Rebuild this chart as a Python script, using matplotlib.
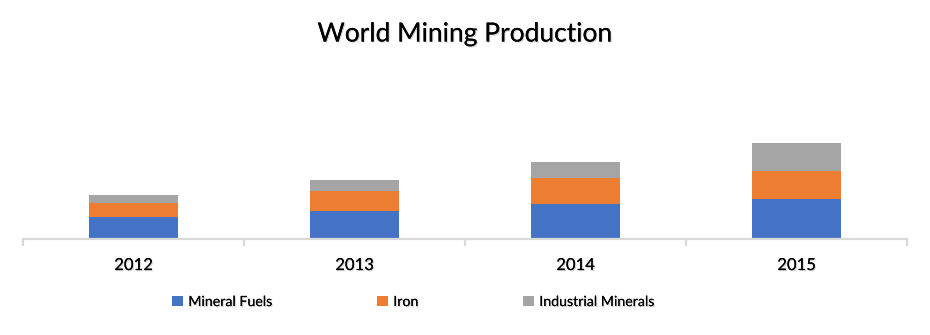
import matplotlib
matplotlib.use("Agg")
import matplotlib.pyplot as plt
import matplotlib.patheffects as pe
from matplotlib.patches import Patch
import numpy as np

years = ["2012", "2013", "2014", "2015"]
mineral_fuels = [22, 28, 34, 39]
iron = [13, 19, 26, 28]
industrial_minerals = [8, 11, 16, 27]
series_names = ["Mineral Fuels", "Iron", "Industrial Minerals"]
colors = ["#4472C4", "#ED7D31", "#A5A5A5"]

plt.rcParams['font.family'] = ['Lato', 'DejaVu Sans']
shadow = [pe.withSimplePatchShadow(offset=(0.8, -0.8), shadow_rgbFace='#888888', alpha=0.35), pe.Normal()]

W, H = 930, 335
fig = plt.figure(figsize=(W/100, H/100), dpi=100)
ax = fig.add_axes([23/W, (H-239)/H, (907-23)/W, (239-58)/H])

x = np.arange(len(years))
bw = 0.40
b1 = np.array(mineral_fuels)
b2 = b1 + np.array(iron)
ax.bar(x, mineral_fuels, bw, color=colors[0], zorder=2)
ax.bar(x, iron, bw, bottom=b1, color=colors[1], zorder=2)
ax.bar(x, industrial_minerals, bw, bottom=b2, color=colors[2], zorder=2)

ax.set_xlim(-0.5, len(years)-0.5)
ax.set_ylim(0, 178)
for s in ["top", "left", "right"]:
    ax.spines[s].set_visible(False)
ax.spines["bottom"].set_color("#D9D9D9")
ax.spines["bottom"].set_linewidth(1.6)
ax.set_yticks([])
ax.set_xticks(x)
ax.set_xticklabels(years)
ax.set_xticks(np.arange(-0.5, len(years)), minor=True)
ax.tick_params(axis='x', which='major', length=0, pad=13, labelsize=12, labelcolor='#000000')
ax.tick_params(axis='x', which='minor', length=5, width=1.6, color='#D9D9D9')
for lbl in ax.get_xticklabels():
    lbl.set_path_effects(shadow)

t = fig.text(465/W, 1-34/H, "World Mining Production", ha='center', va='center', fontsize=19, color='#000000')
t.set_path_effects(shadow)

legend_x = [172, 377, 523]
for name, c, lx in zip(series_names, colors, legend_x):
    leg = fig.legend([Patch(facecolor=c, edgecolor='none')], [name], loc='center left',
                     bbox_to_anchor=(lx/W, 1-302/H), frameon=False, fontsize=10.2,
                     handlelength=0.75, handleheight=0.75, handletextpad=0.4,
                     borderaxespad=0, borderpad=0)
    for txt in leg.get_texts():
        txt.set_path_effects(shadow)

fig.savefig("out.png", dpi=100)
